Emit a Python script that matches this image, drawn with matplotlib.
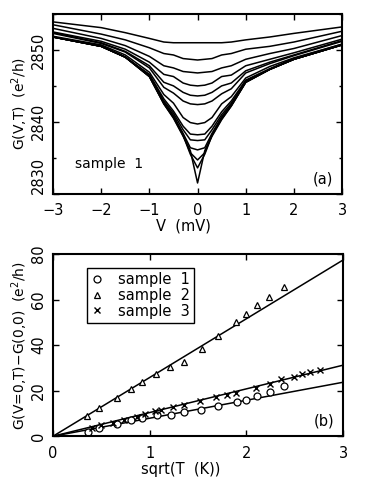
import numpy as np
import matplotlib
matplotlib.use('Agg')
from matplotlib import pyplot as plt
from matplotlib.ticker import MultipleLocator

# panel (a): conductance traces G(V,T), one per temperature
bias = [-3, -2, -1.5, -1, -0.7, -0.5, -0.3, -0.15, 0,
        0.15, 0.3, 0.5, 0.7, 1, 1.5, 2, 3]
traces = [
    [2853.9, 2853.1, 2852.4, 2851.6, 2851.1, 2851.0, 2851.0, 2851.0, 2851.0,
     2851.0, 2851.0, 2851.0, 2851.1, 2851.4, 2851.8, 2852.3, 2853.2],
    [2853.5, 2852.2, 2851.4, 2850.3, 2849.5, 2849.3, 2848.8, 2848.7, 2848.6,
     2848.7, 2848.8, 2849.3, 2849.5, 2850.1, 2850.5, 2851.1, 2852.6],
    [2853.0, 2851.6, 2850.6, 2849.1, 2847.8, 2847.5, 2847.0, 2846.9, 2846.8,
     2846.9, 2847.0, 2847.5, 2847.8, 2848.7, 2849.5, 2850.2, 2852.0],
    [2852.5, 2851.2, 2850.1, 2848.3, 2846.6, 2846.3, 2845.4, 2845.1, 2845.0,
     2845.1, 2845.4, 2846.3, 2846.5, 2847.8, 2848.7, 2849.6, 2851.5],
    [2852.4, 2851.0, 2849.8, 2847.8, 2845.5, 2845.0, 2844.1, 2843.7, 2843.6,
     2843.7, 2844.1, 2845.0, 2845.4, 2847.1, 2848.3, 2849.3, 2851.3],
    [2852.3, 2850.9, 2849.7, 2847.5, 2844.8, 2844.0, 2842.9, 2842.5, 2842.4,
     2842.5, 2842.9, 2843.9, 2844.6, 2846.8, 2848.1, 2849.2, 2851.2],
    [2851.9, 2850.7, 2849.3, 2846.9, 2843.8, 2842.6, 2840.6, 2839.9, 2839.7,
     2839.9, 2840.6, 2842.5, 2843.5, 2846.1, 2847.7, 2848.9, 2850.8],
    [2851.8, 2850.5, 2849.0, 2846.6, 2843.2, 2841.5, 2839.4, 2838.3, 2838.2,
     2838.3, 2839.4, 2841.4, 2842.9, 2845.8, 2847.4, 2848.8, 2850.8],
    [2851.8, 2850.5, 2849.0, 2846.5, 2842.9, 2841.2, 2838.9, 2837.5, 2837.4,
     2837.5, 2838.9, 2841.0, 2842.6, 2845.7, 2847.3, 2848.7, 2850.7],
    [2851.8, 2850.5, 2849.0, 2846.4, 2842.7, 2840.9, 2838.4, 2836.4, 2836.1,
     2836.4, 2838.4, 2840.7, 2842.4, 2845.6, 2847.3, 2848.7, 2850.7],
    [2851.8, 2850.5, 2849.0, 2846.3, 2842.6, 2840.7, 2838.2, 2835.7, 2834.7,
     2835.7, 2838.2, 2840.5, 2842.3, 2845.5, 2847.3, 2848.7, 2850.7],
    [2851.8, 2850.5, 2849.0, 2846.3, 2842.5, 2840.6, 2838.1, 2835.5, 2833.6,
     2835.5, 2838.1, 2840.4, 2842.2, 2845.5, 2847.3, 2848.7, 2850.7],
    [2851.8, 2850.5, 2849.0, 2846.3, 2842.5, 2840.5, 2838.0, 2836.0, 2831.5,
     2836.0, 2838.0, 2840.3, 2842.2, 2845.5, 2847.3, 2848.7, 2850.7],
]
g_ticks = [2830, 2840, 2850]

# panel (b): zero-bias dip vs sqrt(T)
s1_x = [0.36, 0.47, 0.66, 0.81, 0.92, 1.07, 1.22, 1.35, 1.53, 1.71, 1.90, 1.99, 2.11, 2.24, 2.39]
s1_y = [2.0, 3.5, 5.5, 7.0, 7.8, 9.2, 9.5, 10.7, 11.7, 13.3, 15.1, 15.8, 17.6, 19.5, 22.0]
s2_x = [0.35, 0.47, 0.66, 0.81, 0.92, 1.06, 1.21, 1.35, 1.54, 1.71, 1.89, 1.99, 2.11, 2.23, 2.39]
s2_y = [8.8, 12.6, 16.8, 20.9, 23.9, 27.3, 30.2, 32.7, 38.5, 44.0, 50.0, 53.5, 57.5, 61.0, 65.4]
s3_x = [0.40, 0.50, 0.62, 0.73, 0.87, 0.95, 1.05, 1.12, 1.24, 1.35, 1.52,
        1.69, 1.80, 1.89, 2.10, 2.24, 2.36, 2.49, 2.57, 2.66, 2.76]
s3_y = [3.8, 4.8, 6.0, 7.0, 8.4, 9.8, 11.0, 11.6, 12.8, 13.8, 15.6,
        17.2, 18.2, 18.8, 21.0, 22.8, 25.0, 26.0, 27.2, 28.0, 29.0]
fit_x = [0, 3]
fit_slopes = [7.9, 25.8, 10.4]

plt.rcParams['font.family'] = 'DejaVu Sans'
plt.rcParams['font.size'] = 10

fig = plt.figure(figsize=(3.71, 4.82), dpi=100)
ax1 = fig.add_axes([0.143, 0.598, 0.779, 0.373])
ax2 = fig.add_axes([0.143, 0.095, 0.782, 0.378])


def style_axes(ax):
    for sp in ax.spines.values():
        sp.set_linewidth(1.5)
    ax.tick_params(which='both', direction='in', top=True, right=True,
                   width=1.0, labelsize=10.5)
    ax.tick_params(which='major', length=4)
    ax.tick_params(which='minor', length=2)
    ax.tick_params(axis='x', pad=7)
    ax.tick_params(axis='y', pad=5)
    for lab in ax.get_yticklabels():
        lab.set_rotation(90)
        lab.set_va('center')


for g in traces:
    ax1.plot(bias, g, color='black', lw=1.1)
ax1.set_xlim(-3, 3)
ax1.set_ylim(2830, 2855)
ax1.xaxis.set_major_locator(MultipleLocator(1))
ax1.set_yticks(g_ticks)
ax1.yaxis.set_minor_locator(MultipleLocator(5))
ax1.set_xlabel('V  (mV)', fontsize=10.5)
ax1.xaxis.set_label_coords(0.45, -0.14)
ax1.set_ylabel('G(V,T)  (e$^2$/h)', labelpad=1)
ax1.text(-2.55, 2833.6, 'sample  1', fontsize=10)
ax1.text(0.97, 0.04, '(a)', transform=ax1.transAxes, ha='right',
         va='bottom', fontsize=10.5)
style_axes(ax1)
# keep the lowest label clear of the "-3" below it
ax1.get_yticklabels()[0].set_va('bottom')

fx = np.array(fit_x)
for k in fit_slopes:
    ax2.plot(fx, k * fx, color='black', lw=1.1)
ax2.plot(s1_x, s1_y, 'o', mfc='white', mec='black', ms=5, mew=0.9,
         ls='none', label='sample  1')
ax2.plot(s2_x, s2_y, '^', mfc='white', mec='black', ms=5, mew=0.9,
         ls='none', label='sample  2')
ax2.plot(s3_x, s3_y, 'x', color='black', ms=4, mew=1.0,
         ls='none', label='sample  3')
ax2.set_xlim(0, 3)
ax2.set_ylim(0, 80)
ax2.xaxis.set_major_locator(MultipleLocator(1))
ax2.yaxis.set_major_locator(MultipleLocator(20))
ax2.set_xlabel('sqrt(T  (K))', fontsize=10.5)
ax2.xaxis.set_label_coords(0.44, -0.14)
ax2.set_ylabel('G(V=0,T)\u2212G(0,0)  (e$^2$/h)', labelpad=1)
ax2.text(0.97, 0.04, '(b)', transform=ax2.transAxes, ha='right',
         va='bottom', fontsize=10.5)
leg = ax2.legend(loc='upper left', bbox_to_anchor=(0.117, 0.925),
                 borderaxespad=0, fancybox=False, edgecolor='black',
                 framealpha=1, handlelength=0.8, handletextpad=1.0,
                 labelspacing=0.05, borderpad=0.3, fontsize=10.5)
leg.get_frame().set_linewidth(1.0)
style_axes(ax2)

fig.savefig('out.png', dpi=100)
